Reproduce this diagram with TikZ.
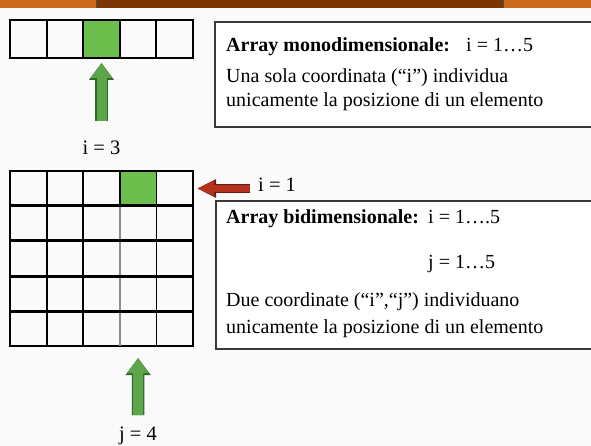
\documentclass[tikz,border=0pt]{standalone}
\usepackage{fontspec}
\setmainfont{Liberation Serif}
\usetikzlibrary{arrows.meta}
\definecolor{bg}{HTML}{FAFAFA}
\definecolor{cellgreen}{HTML}{6CBF4C}
\definecolor{arrgreen}{HTML}{5CA548}
\definecolor{arrgreendark}{HTML}{2F6A2A}
\definecolor{arrred}{HTML}{B3321E}
\definecolor{arrreddark}{HTML}{6E1A10}
\definecolor{bandbrown}{HTML}{7B3502}
\definecolor{bandorange}{HTML}{CC6A1C}
\definecolor{boxline}{HTML}{3A3A3A}
\begin{document}
\begin{tikzpicture}[x=1pt,y=-1pt,
  cell/.style={draw=black, line width=2pt, minimum width=36.6pt, minimum height=38pt, inner sep=0pt, outer sep=0pt},
  gcell/.style={draw=black, line width=1.8pt, minimum width=36.6pt, minimum height=35pt, inner sep=0pt, outer sep=0pt},
  infobox/.style={draw=boxline, line width=1.8pt, fill=white, inner sep=0pt, outer sep=0pt},
  txt/.style={font=\fontsize{20}{22}\selectfont, inner sep=0pt, anchor=base west},
  lbl/.style={font=\fontsize{20.5}{22}\selectfont, inner sep=0pt, anchor=base},
  garrow/.style={line width=10pt, arrgreen, -{Triangle[width=20pt,length=15pt]},
    preaction={draw=arrgreendark, line width=12.5pt, -{Triangle[width=24pt,length=17pt]}}},
  rarrow/.style={line width=7pt, arrred, -{Triangle[width=14pt,length=17pt]},
    preaction={draw=arrreddark, line width=9pt, -{Triangle[width=17pt,length=19pt]}}}
]
\useasboundingbox (0,0) rectangle (591,446);
\clip (0,0) rectangle (591,446);
\fill[bg] (0,0) rectangle (591,446);
% top band
\fill[bandorange] (0,0) rectangle (591,8);
\fill[bandbrown] (96,0) rectangle (503,8);
\draw[black!70, line width=1pt] (96,0) -- (96,8) (503,0) -- (503,8);
% 1D array
\foreach \k in {1,...,5}{
  \node[cell] (a\k) at ({10+36.6*(\k-0.5)},39) {};
}
\fill[cellgreen] (a3.north west) rectangle (a3.south east);
\foreach \k in {1,...,5}{ \draw[black, line width=2pt] (a\k.north west) rectangle (a\k.south east); }
% 2D grid
\foreach \r in {1,...,5}{
  \foreach \c in {1,...,5}{
    \node[gcell] (g-\r-\c) at ({10+36.6*(\c-0.5)},{171+35*(\r-0.5)}) {};
  }
}
\fill[cellgreen] (g-1-4.north west) rectangle (g-1-4.south east);
\foreach \r in {1,...,5}{
  \foreach \c in {1,...,5}{ \draw[black, line width=1.8pt] (g-\r-\c.north west) rectangle (g-\r-\c.south east); }
}
\draw[black!45, line width=2pt] (g-2-4.north west) -- (g-5-4.south west);
\foreach \r in {1,...,4}{ \draw[black, line width=3pt] (g-\r-1.south west) -- (g-\r-5.south east); }
% info boxes
\node[infobox, anchor=north west, minimum width=400pt, minimum height=105pt] (box1) at (215,22) {};
\node[infobox, anchor=north west, minimum width=400pt, minimum height=148pt] (box2) at (216,201) {};
\node[txt] (t1a) at (226,52) {\textbf{Array monodimensionale:}};
\node[txt] (t1b) at (466,52) {i = 1…5};
\node[txt] (t1c) at (226,83) {Una sola coordinata (“i”) individua};
\node[txt] (t1d) at (226,107) {unicamente la posizione di un elemento};
\node[txt] (t2a) at (226,224) {\textbf{Array bidimensionale:}};
\node[txt] (t2b) at (428,224) {i = 1….5};
\node[txt] (t2c) at (428,269) {j = 1…5};
\node[txt] (t2d) at (226,306) {Due coordinate (“i”,“j”) individuano};
\node[txt] (t2e) at (226,333) {unicamente la posizione di un elemento};
% labels
\node[lbl] (l1) at (101.5,154.5) {i = 3};
\node[lbl, anchor=base west] (l2) at (258,192) {i = 1};
\node[lbl] (l3) at (138,440.5) {j = 4};
% arrows
\coordinate (ga1) at (101.5,121);
\coordinate (ga2) at (138.1,415);
\coordinate (ra1) at (250,188.5);
\draw[garrow, shorten >=5pt] (ga1) -- (a3.south);
\draw[garrow, shorten >=12pt] (ga2) -- (g-5-4.south);
\draw[rarrow, shorten >=4pt] (ra1) -- (g-1-5.east);
\end{tikzpicture}
\end{document}
